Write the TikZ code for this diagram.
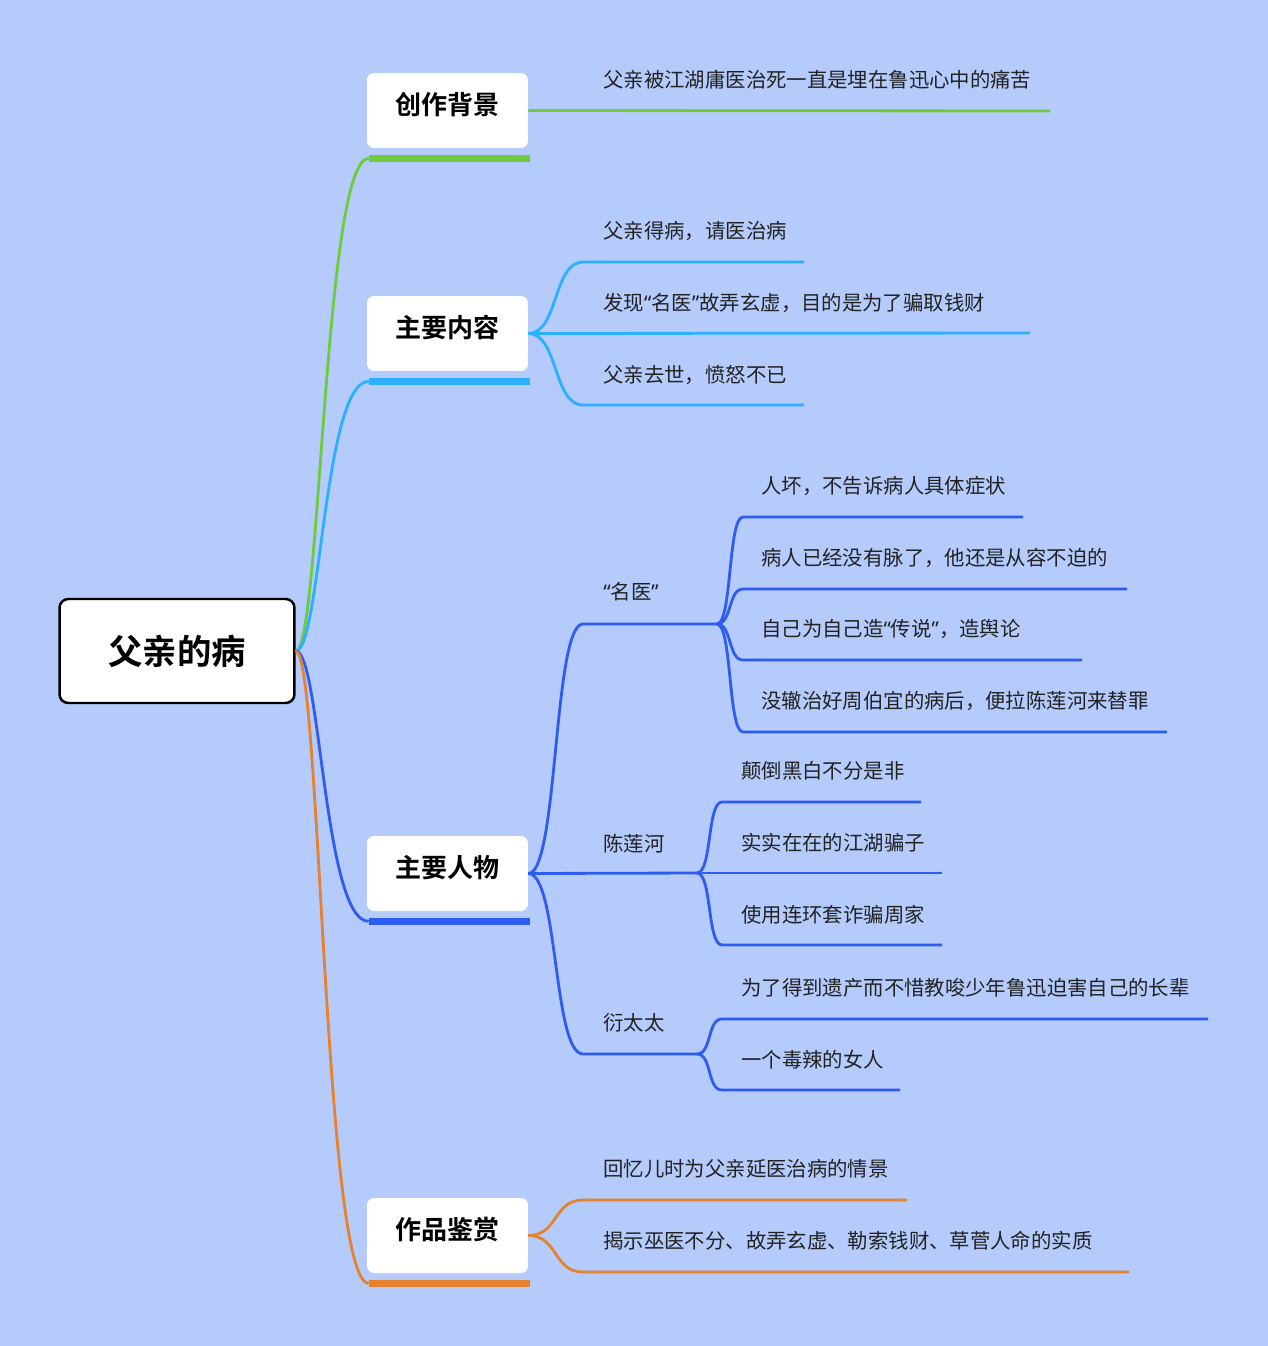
\documentclass[tikz,border=0pt]{standalone}
\usepackage{fontspec}
\setmainfont{Noto Sans CJK SC}[BoldFont={Noto Sans CJK SC Bold}]
\newfontfamily\quotefont{Noto Sans}
\newcommand{\qopen}{{\quotefont “}}
\newcommand{\qclose}{{\quotefont ”}}
\usetikzlibrary{positioning}
\definecolor{paleblue}{RGB}{180,203,252}
\definecolor{leafgreen}{RGB}{109,203,60}
\definecolor{skyblue}{RGB}{43,176,255}
\definecolor{royalblue}{RGB}{46,91,240}
\definecolor{amber}{RGB}{230,130,46}
\definecolor{inkgray}{RGB}{34,34,34}

\begin{document}
\begin{tikzpicture}[x=0.02cm, y=-0.02cm,
root/.style={draw=black, line width=1.4pt, rounded corners=5pt, fill=white,
minimum width=4.7cm, minimum height=2.08cm, font=\fontsize{19.6}{22}\selectfont\bfseries},
topic/.style={fill=white, rounded corners=4pt, minimum width=3.22cm,
minimum height=1.5cm, text height=13pt, text depth=8.6pt,
font=\fontsize{14.8}{17}\selectfont\bfseries},
leaf/.style={anchor=west, inner sep=0pt, text=inkgray, font=\fontsize{11.6}{14}\selectfont},
stem/.style={line width=1.6pt},
bar/.style={line width=3.8pt}]
  % background
  \fill[paleblue] (0,0) rectangle (1268,1346);
  % 1 center node
  \node[root] (root) at (177,651) {父亲的病};
  % 4 topics
  \node[topic] (bg) at (447.5,110.5)  {创作背景};
  \node[topic] (nr) at (447.5,333.5)  {主要内容};
  \node[topic] (rw) at (447.5,873.5)  {主要人物};
  \node[topic] (js) at (447.5,1235.5) {作品鉴赏};

\foreach \t/\c in {bg/leafgreen,nr/skyblue,rw/royalblue,js/amber}
  {
    \coordinate (\t-bar) at ([shift={(2,10)}]\t.south west);
    \draw[bar, \c] (\t-bar) -- ++(161,0);
    \draw[stem, \c] (root.east) .. controls +(25,0) and +(-45,0) .. (\t-bar);
  }

  % 创作背景
  \node[leaf] (bg1) at (603,80) {父亲被江湖庸医治死一直是埋在鲁迅心中的痛苦};
  \coordinate (bg1-b) at (1050,111);
  \draw[stem, leafgreen] (bg.east) -- (bg1-b);

  % 主要内容
  \node[leaf] (nr1) at (603,231) {父亲得病，请医治病};
  \node[leaf] (nr2) at (603,303) {发现\qopen 名医\qclose 故弄玄虚，目的是为了骗取钱财};
  \node[leaf] (nr3) at (603,375) {父亲去世，愤怒不已};
  \coordinate (nr1-a) at (583,262);  \coordinate (nr1-b) at (804,262);
  \coordinate (nr2-b) at (1030,333);
  \coordinate (nr3-a) at (583,405);  \coordinate (nr3-b) at (804,405);
\foreach \i in {1,3}
    \draw[stem, skyblue] (nr.east) .. controls +(30,0) and +(-30,0) .. (nr\i-a) -- (nr\i-b);
  \draw[stem, skyblue] (nr.east) -- (nr2-b);

  % 主要人物
  \node[leaf] (rw1) at (603,592)  {\qopen 名医\qclose};
  \node[leaf] (rw2) at (603,844)  {陈莲河};
  \node[leaf] (rw3) at (603,1023) {衍太太};
  \coordinate (rw1-a) at (583,624);  \coordinate (rw1-b) at (717,624);
  \coordinate (rw2-b) at (697,873);
  \coordinate (rw3-a) at (583,1054); \coordinate (rw3-b) at (697,1054);
\foreach \i in {1,3}
    \draw[stem, royalblue] (rw.east) .. controls +(30,0) and +(-30,0) .. (rw\i-a) -- (rw\i-b);
  \draw[stem, royalblue] (rw.east) -- (rw2-b);

  % “名医”
  \node[leaf] (my1) at (761,486) {人坏，不告诉病人具体症状};
  \node[leaf] (my2) at (761,558) {病人已经没有脉了，他还是从容不迫的};
  \node[leaf] (my3) at (761,629) {自己为自己造\qopen 传说\qclose ，造舆论};
  \node[leaf] (my4) at (761,701) {没辙治好周伯宜的病后，便拉陈莲河来替罪};
\foreach \i/\y/\e in {1/517/1023,2/589/1127,3/660/1082,4/732/1167}
  {
    \coordinate (my\i-a) at (743,\y); \coordinate (my\i-b) at (\e,\y);
    \draw[stem, royalblue] (rw1-b) .. controls +(15,0) and +(-15,0) .. (my\i-a) -- (my\i-b);
  }

  % 陈莲河
  \node[leaf] (cl1) at (741,771) {颠倒黑白不分是非};
  \node[leaf] (cl2) at (741,843) {实实在在的江湖骗子};
  \node[leaf] (cl3) at (741,915) {使用连环套诈骗周家};
  \coordinate (cl1-a) at (722,802);  \coordinate (cl1-b) at (921,802);
  \coordinate (cl2-b) at (942,873);
  \coordinate (cl3-a) at (722,945);  \coordinate (cl3-b) at (942,945);
\foreach \i in {1,3}
    \draw[stem, royalblue] (rw2-b) .. controls +(15,0) and +(-15,0) .. (cl\i-a) -- (cl\i-b);
  \draw[stem, royalblue] (rw2-b) -- (cl2-b);

  % 衍太太
  \node[leaf] (yt1) at (741,988)  {为了得到遗产而不惜教唆少年鲁迅迫害自己的长辈};
  \node[leaf] (yt2) at (741,1060) {一个毒辣的女人};
  \coordinate (yt1-a) at (722,1019); \coordinate (yt1-b) at (1208,1019);
  \coordinate (yt2-a) at (722,1090); \coordinate (yt2-b) at (900,1090);
\foreach \i in {1,2}
    \draw[stem, royalblue] (rw3-b) .. controls +(15,0) and +(-15,0) .. (yt\i-a) -- (yt\i-b);

  % 作品鉴赏
  \node[leaf] (js1) at (603,1169) {回忆儿时为父亲延医治病的情景};
  \node[leaf] (js2) at (603,1241) {揭示巫医不分、故弄玄虚、勒索钱财、草菅人命的实质};
  \coordinate (js1-a) at (583,1200); \coordinate (js1-b) at (907,1200);
  \coordinate (js2-a) at (583,1272); \coordinate (js2-b) at (1129,1272);
\foreach \i in {1,2}
    \draw[stem, amber] (js.east) .. controls +(30,0) and +(-30,0) .. (js\i-a) -- (js\i-b);
\end{tikzpicture}
\end{document}
